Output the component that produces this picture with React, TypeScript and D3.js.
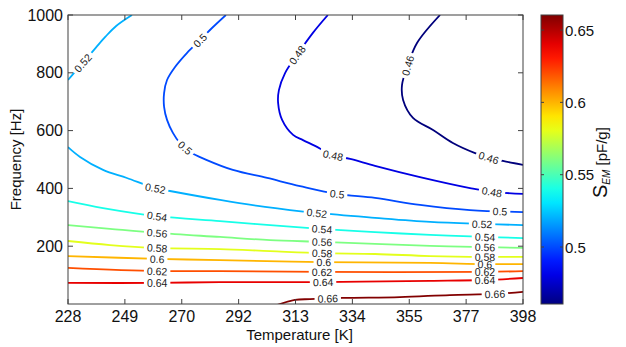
import React from "react";
import * as d3 from "d3";

const W = 626;
const H = 347;

// Axis ticks
const tempTicks = [228, 249.25, 270.5, 291.75, 313, 334.25, 355.5, 376.75, 398];
const tempTickLabels = ["228", "249", "270", "292", "313", "334", "355", "377", "398"];
const freqTicks = [200, 400, 600, 800, 1000];
const colorTicks = [0.5, 0.55, 0.6, 0.65];
const colorRange: [number, number] = [0.4606, 0.6604];

type Pt = [number, number]; // [temperature K, frequency Hz]

// Iso-lines of S_EM, as [T, f] vertices
const c046: Pt[] = [[367, 1000], [358.4, 903], [355, 827], [352.8, 758], [353.2, 706], [356.9, 644], [364.4, 602], [371.8, 557], [380.1, 522], [385.7, 505], [390.5, 495], [398, 481]];
const c048: Pt[] = [[325.1, 1000], [319.5, 938], [313.6, 862], [309.1, 799], [306.8, 740], [306.5, 696], [308, 637], [312.1, 585], [315.8, 567], [320.3, 547], [327, 515], [333.4, 502], [342.7, 478], [359.5, 439], [378.2, 401], [386.4, 388], [398, 381]];
const c050: Pt[] = [[287, 1000], [281.8, 955], [277.3, 913], [272.5, 869], [268, 820], [265, 775], [263.9, 730], [263.9, 682], [265, 637], [267.2, 592], [269.8, 557], [273.6, 526], [279.9, 498], [289.6, 464], [302.4, 436], [314.7, 408], [328.5, 381], [342.7, 367], [359.5, 343], [378.2, 325], [398, 318]];
const c052a: Pt[] = [[228, 775], [231.4, 812], [235, 850], [238.5, 888], [242, 925], [246, 962], [251.9, 1000]];
const c052b: Pt[] = [[228, 543], [232.5, 509], [241.1, 464], [250, 436], [260.5, 401], [266.1, 391], [284.8, 360], [301.6, 336], [321, 315], [342.7, 298], [363.3, 284], [382.7, 277], [398, 273]];
const c054: Pt[] = [[228, 356], [241.1, 332], [261.3, 304], [284.8, 287], [303.5, 273], [322.2, 260], [342.7, 249], [363.3, 239], [383.8, 232], [398, 228]];
const c056: Pt[] = [[228, 273], [243.7, 260], [261.3, 246], [284.8, 232], [303.5, 221], [322.9, 215], [342.7, 208], [363.3, 201], [383.8, 197], [398, 194]];
const c058: Pt[] = [[228, 218], [243.7, 204], [261.3, 194], [284.8, 190], [303.5, 183], [322.9, 176], [342.7, 173], [363.3, 166], [383.8, 163], [398, 163]];
const c060: Pt[] = [[228, 166], [261.3, 156], [284.8, 152], [322.9, 145], [363.3, 142], [383.8, 138], [398, 138]];
const c062: Pt[] = [[228, 125], [261.3, 114], [284.8, 114], [322.9, 111], [383.8, 111], [398, 114]];
const c064: Pt[] = [[228, 73], [261.3, 73], [284.8, 76], [322.9, 76], [363.3, 80], [383.8, 83], [398, 90]];
const c066: Pt[] = [[305, -7], [312.8, 14], [318.4, 17], [330.7, 21], [352, 24], [370.7, 31], [387.5, 35], [398, 42]];

const contours: { level: number; pts: Pt[] }[] = [
  { level: 0.46, pts: c046 },
  { level: 0.48, pts: c048 },
  { level: 0.5, pts: c050 },
  { level: 0.52, pts: c052a },
  { level: 0.52, pts: c052b },
  { level: 0.54, pts: c054 },
  { level: 0.56, pts: c056 },
  { level: 0.58, pts: c058 },
  { level: 0.6, pts: c060 },
  { level: 0.62, pts: c062 },
  { level: 0.64, pts: c064 },
  { level: 0.66, pts: c066 },
];

// Inline labels: [level, T, f]
const contourLabels: [number, number, number][] = [
  [0.52, 233.6, 834], [0.5, 277.3, 913], [0.48, 313.6, 862], [0.46, 354.3, 827],
  [0.5, 271.7, 540], [0.48, 327, 512], [0.46, 384.9, 498],
  [0.52, 260.5, 394], [0.5, 328.5, 377], [0.48, 386.4, 388],
  [0.52, 321, 315], [0.5, 389.4, 318], [0.52, 382.7, 273],
  [0.54, 261.3, 304], [0.54, 322.9, 256], [0.54, 383.8, 232],
  [0.56, 261.3, 246], [0.56, 322.9, 215], [0.56, 383.8, 197],
  [0.58, 261.3, 194], [0.58, 322.9, 176], [0.58, 383.8, 163],
  [0.6, 261.3, 156], [0.6, 323.6, 145], [0.6, 383.8, 138],
  [0.62, 261.3, 114], [0.62, 322.9, 111], [0.62, 383.8, 111],
  [0.64, 261.3, 73], [0.64, 323.3, 76], [0.64, 383.8, 83],
  [0.66, 325.1, 7], [0.66, 387.5, 35],
];

const FONT = "'Liberation Sans', Arial, Helvetica, sans-serif";
const AXIS = "#404040";

const plot = { left: 68, right: 523, top: 15, bottom: 304 };
const bar = { left: 541, right: 563 };

function jet(t: number): string {
  const c = (v: number) => Math.round(255 * Math.max(0, Math.min(1, v)));
  const r = 1.5 - Math.abs(4 * t - 3);
  const g = 1.5 - Math.abs(4 * t - 2);
  const b = 1.5 - Math.abs(4 * t - 1);
  return `rgb(${c(r)},${c(g)},${c(b)})`;
}

export default function App() {
  const x = d3.scaleLinear().domain([228, 398]).range([plot.left, plot.right]);
  const y = d3.scaleLinear().domain([0, 1000]).range([plot.bottom, plot.top]);
  const cT = d3.scaleLinear().domain(colorRange).range([0, 1]);
  const yBar = d3.scaleLinear().domain(colorRange).range([plot.bottom, plot.top]);
  const color = (v: number) => jet(cT(v));

  const line = d3
    .line<Pt>()
    .x((d) => x(d[0]))
    .y((d) => y(d[1]))
    .curve(d3.curveCatmullRom.alpha(0.5));

  const levels = Array.from(new Set(contours.map((c) => c.level)));
  const fs = 10.5;
  const textW = (s: string) =>
    s.split("").reduce((a, ch) => a + (ch === "." ? 0.278 : 0.556), 0) * fs;

  // Snap each label onto its iso-line and orient it along the line
  const labels = contourLabels.map(([lv, t, f]) => {
    const px = x(t);
    const py = y(f);
    let best = { d: Infinity, x: px, y: py, a: 0 };
    contours
      .filter((c) => c.level === lv)
      .forEach((c) => {
        const p = c.pts.map((d) => [x(d[0]), y(d[1])]);
        for (let i = 0; i < p.length - 1; i++) {
          const [x1, y1] = p[i];
          const [x2, y2] = p[i + 1];
          const dx = x2 - x1;
          const dy = y2 - y1;
          const L = dx * dx + dy * dy;
          let u = L > 0 ? ((px - x1) * dx + (py - y1) * dy) / L : 0;
          u = Math.max(0, Math.min(1, u));
          const qx = x1 + u * dx;
          const qy = y1 + u * dy;
          const dd = Math.hypot(px - qx, py - qy);
          if (dd < best.d) {
            let a = (Math.atan2(dy, dx) * 180) / Math.PI;
            if (a > 90) a -= 180;
            if (a < -90) a += 180;
            best = { d: dd, x: qx, y: qy, a };
          }
        }
      });
    const text = String(lv);
    return { lv, text, x: best.x, y: best.y, a: best.a, w: textW(text) };
  });

  const gradStops = d3.range(0, 1.0001, 0.05);

  return (
    <div style={{ position: "absolute", left: 0, top: 0 }}>
      <svg width={W} height={H} style={{ display: "block", background: "#fff" }}>
        <defs>
          <clipPath id="plotClip">
            <rect x={plot.left} y={plot.top} width={plot.right - plot.left} height={plot.bottom - plot.top} />
          </clipPath>
          {levels.map((lv, i) => (
            <mask id={`gap${i}`} key={lv} maskUnits="userSpaceOnUse" x={0} y={0} width={W} height={H}>
              <rect x={0} y={0} width={W} height={H} fill="#fff" />
              {labels
                .filter((l) => l.lv === lv)
                .map((l, j) => (
                  <rect
                    key={j}
                    x={-l.w / 2 - 3}
                    y={-5}
                    width={l.w + 6}
                    height={10}
                    fill="#000"
                    transform={`translate(${l.x},${l.y}) rotate(${l.a})`}
                  />
                ))}
            </mask>
          ))}
          <linearGradient id="jetGrad" x1="0" y1="1" x2="0" y2="0">
            {gradStops.map((t) => (
              <stop key={t} offset={t} stopColor={jet(t)} />
            ))}
          </linearGradient>
        </defs>

        <rect x={plot.left} y={plot.top} width={plot.right - plot.left} height={plot.bottom - plot.top} fill="#fff" />

        <g clipPath="url(#plotClip)">
          {contours.map((c, i) => (
            <path
              key={i}
              d={line(c.pts) || ""}
              fill="none"
              stroke={color(c.level)}
              strokeWidth={1.8}
              mask={`url(#gap${levels.indexOf(c.level)})`}
            />
          ))}
        </g>

        {labels.map((l, i) => (
          <text
            key={i}
            transform={`translate(${l.x},${l.y}) rotate(${l.a})`}
            textAnchor="middle"
            dominantBaseline="central"
            fontFamily={FONT}
            fontSize={fs}
            fill="#222"
          >
            {l.text}
          </text>
        ))}

        {/* axes box */}
        <rect
          x={plot.left}
          y={plot.top}
          width={plot.right - plot.left}
          height={plot.bottom - plot.top}
          fill="none"
          stroke={AXIS}
          strokeWidth={1}
        />
        {tempTicks.map((t, i) => (
          <g key={i}>
            <line x1={x(t)} x2={x(t)} y1={plot.bottom} y2={plot.bottom - 5} stroke={AXIS} />
            <line x1={x(t)} x2={x(t)} y1={plot.top} y2={plot.top + 5} stroke={AXIS} />
            <text x={x(t)} y={322} textAnchor="middle" fontFamily={FONT} fontSize={16} fill="#111">
              {tempTickLabels[i]}
            </text>
          </g>
        ))}
        {freqTicks.map((f) => (
          <g key={f}>
            <line x1={plot.left} x2={plot.left + 5} y1={y(f)} y2={y(f)} stroke={AXIS} />
            <line x1={plot.right} x2={plot.right - 5} y1={y(f)} y2={y(f)} stroke={AXIS} />
            <text x={63} y={y(f)} textAnchor="end" dominantBaseline="central" fontFamily={FONT} fontSize={16} fill="#111">
              {f}
            </text>
          </g>
        ))}

        <text x={(plot.left + plot.right) / 2 + 4} y={340} textAnchor="middle" fontFamily={FONT} fontSize={15} fill="#111">
          Temperature [K]
        </text>
        <text
          transform={`translate(21,${(plot.top + plot.bottom) / 2}) rotate(-90)`}
          textAnchor="middle"
          fontFamily={FONT}
          fontSize={15}
          fill="#111"
        >
          Frequency [Hz]
        </text>

        {/* colour bar */}
        <rect
          x={bar.left}
          y={plot.top}
          width={bar.right - bar.left}
          height={plot.bottom - plot.top}
          fill="url(#jetGrad)"
          stroke={AXIS}
          strokeWidth={1}
        />
        {colorTicks.map((v) => (
          <g key={v}>
            <line x1={bar.right} x2={bar.right - 3} y1={yBar(v)} y2={yBar(v)} stroke={AXIS} />
            <line x1={bar.left} x2={bar.left + 3} y1={yBar(v)} y2={yBar(v)} stroke={AXIS} />
            <text x={565} y={yBar(v)} dominantBaseline="central" fontFamily={FONT} fontSize={15} fill="#111">
              {String(v)}
            </text>
          </g>
        ))}
        <text transform="translate(607,198) rotate(-90)" textAnchor="start" fontFamily={FONT} fill="#111">
          <tspan fontSize={20}>S</tspan>
          <tspan fontSize={10} fontStyle="italic" dy={3}>EM</tspan>
          <tspan fontSize={15} dy={-3}> [pF/g]</tspan>
        </text>
      </svg>
    </div>
  );
}
